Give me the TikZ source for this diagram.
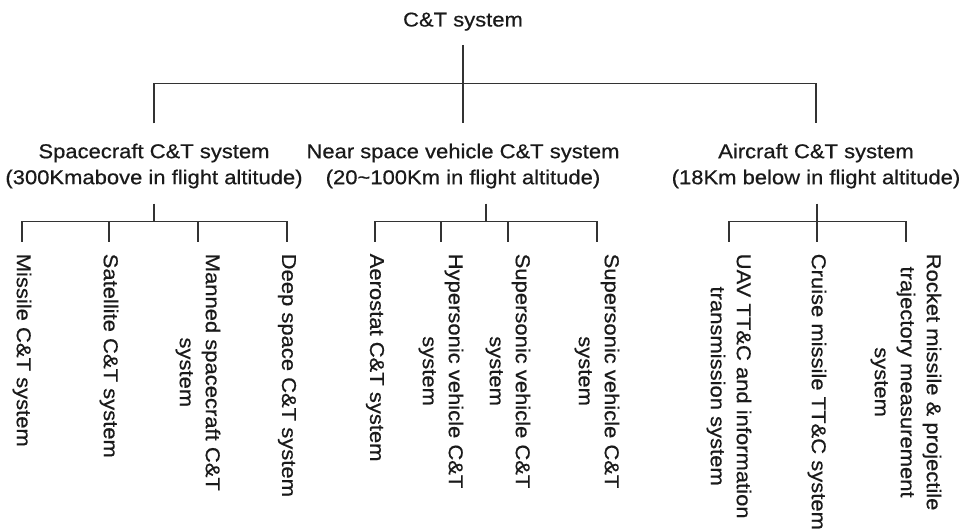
\documentclass[tikz,border=0pt]{standalone}
\usepackage{fontspec}
\setmainfont[FakeStretch=1.1,FakeBold=0.6]{Liberation Sans}
\definecolor{txtc}{HTML}{1A1A1A}
\definecolor{linec}{HTML}{333333}
\begin{document}
\begin{tikzpicture}[x=1pt,y=-1pt,
  lbl/.style={font=\fontsize{20}{26}\selectfont, text=txtc, inner sep=0pt, align=center},
  leaf/.style={lbl, rotate=-90, anchor=west},
  conn/.style={draw=linec, line width=1.4pt}]
\useasboundingbox (0,0) rectangle (969,532);
% root and level 2
\node[lbl, anchor=base] (root) at (463,26.5) {C\&T system};
\node[lbl, anchor=north] (sc) at (154,143.5) {Spacecraft C\&T system\\(300Kmabove in flight altitude)};
\node[lbl, anchor=north] (ns) at (463,143.5) {Near space vehicle C\&T system\\(20\textasciitilde100Km in flight altitude)};
\node[lbl, anchor=north] (ac) at (816,143.5) {Aircraft C\&T system\\(18Km below in flight altitude)};
% leaves
\node[leaf] (s1) at (22,253.5) {Missile C\&T system};
\node[leaf] (s2) at (109,253.5) {Satellite C\&T system};
\node[leaf] (s3) at (198,253.5) {Manned spacecraft C\&T\\system};
\node[leaf] (s4) at (287,253.5) {Deep space C\&T system};
\node[leaf] (n1) at (375,253.5) {Aerostat C\&T system};
\node[leaf] (n2) at (441,253.5) {Hypersonic vehicle C\&T\\system};
\node[leaf] (n3) at (508,253.5) {Supersonic vehicle C\&T\\system};
\node[leaf] (n4) at (597,253.5) {Supersonic vehicle C\&T\\system};
\node[leaf] (a1) at (729,253.5) {UAV TT\&C and information\\transmission system};
\node[leaf] (a2) at (817,253.5) {Cruise missile TT\&C system};
\node[leaf] (a3) at (906,253.5) {Rocket missile \& projectile\\trajectory measurement\\system};
% top level connectors
\draw[conn, shorten <=14pt, shorten >=20pt] (root.south) -- (ns.north);
\coordinate (t1) at ([yshift=20pt]sc.north);
\coordinate (t3) at ([yshift=20pt]ac.north);
\draw[conn] (t1) -- ++(0,-40) -| (t3);
% spacecraft group
\coordinate (sb) at ([yshift=32pt]s1.west);
\draw[conn, shorten <=15pt] (sc.south) -- (sc.south |- sb);
\draw[conn] ([yshift=12pt]s1.west) -- (sb) -- (sb -| s4.west) -- ([yshift=12pt]s4.west);
\draw[conn] ([yshift=12pt]s2.west) -- (s2.west |- sb);
\draw[conn] ([yshift=12pt]s3.west) -- (s3.west |- sb);
% near space group
\coordinate (nb) at ([yshift=32pt]n1.west);
\coordinate (nst) at ([xshift=23pt]ns.south);
\draw[conn, shorten <=15pt] (nst) -- (nst |- nb);
\draw[conn] ([yshift=12pt]n1.west) -- (nb) -- (nb -| n4.west) -- ([yshift=12pt]n4.west);
\draw[conn] ([yshift=12pt]n2.west) -- (n2.west |- nb);
\draw[conn] ([yshift=12pt]n3.west) -- (n3.west |- nb);
% aircraft group
\coordinate (ab) at ([yshift=32pt]a1.west);
\draw[conn, shorten <=15pt] (ac.south -| a2.west) -- ([yshift=12pt]a2.west);
\draw[conn] ([yshift=12pt]a1.west) -- (ab) -- (ab -| a3.west) -- ([yshift=12pt]a3.west);
\end{tikzpicture}
\end{document}
